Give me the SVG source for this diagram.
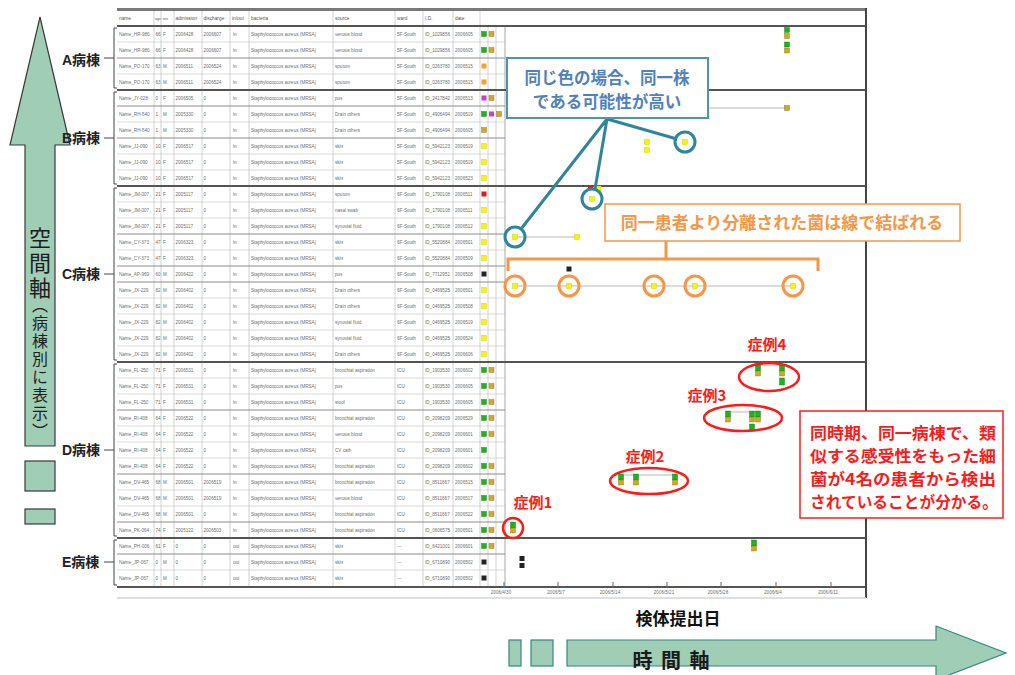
<svg xmlns="http://www.w3.org/2000/svg" width="1015" height="675" viewBox="0 0 1015 675">
<style>
.t{font-family:"Liberation Sans",Arial,sans-serif;font-size:4.6px;fill:#6e6e6e}
.h{font-family:"Liberation Sans",Arial,sans-serif;font-size:4.8px;fill:#555}
.rl{stroke:#d0d0d0;stroke-width:.8;fill:none}
.ps{stroke:#8c8c8c;stroke-width:1;fill:none}
.gs{stroke:#555;stroke-width:2;fill:none}
.vl{stroke:#c6c6c6;stroke-width:.8;fill:none}
.g{fill:#1db31d;stroke:#0c7a0c;stroke-width:.4}
.o{fill:#cfa92c;stroke:#8a7010;stroke-width:.4}
.y{fill:#f6f600;stroke:#c8c800;stroke-width:.4}
.m{fill:#d23bd2}
.r{fill:#e31a1a}
.k{fill:#222}
.n{fill:#f3a329}
.conn{stroke:#cfcfcf;stroke-width:1.5;fill:none}
.lbl{font-family:"Liberation Sans","Noto Sans CJK JP",sans-serif;font-weight:bold;font-size:14px;fill:#222}
.brk{stroke:#444;stroke-width:1;fill:none}
.jp{font-family:"Noto Sans CJK JP","Liberation Sans",sans-serif;font-weight:bold}
.tealc{fill:none;stroke:#31859b;stroke-width:3}
.orc{fill:none;stroke:#f79646;stroke-width:3}
.redc{fill:none;stroke:#ff1a1a;stroke-width:2.5}
.case{font-family:"Noto Sans CJK JP","Liberation Sans",sans-serif;font-weight:bold;font-size:15px;fill:#ff1a1a;text-anchor:middle}
.arw{fill:#9fcdb5}
</style>

<!-- left space axis arrow -->
<g id="space-axis">
<polygon class="arw" points="40,17 70,145 55,145 55,446 25,446 25,145 10,145" stroke="#3a3a3a" stroke-width="1.2"/>
<rect class="arw" x="25" y="461" width="30" height="30" stroke="#3a3a3a" stroke-width="1.2"/>
<rect class="arw" x="25" y="509" width="30" height="15" stroke="#3a3a3a" stroke-width="1.2"/>
<text x="40" y="227" class="jp" style="writing-mode:vertical-rl;font-weight:normal" font-size="22" letter-spacing="3" fill="#1e1e1e">空間軸</text>
<text x="40" y="297" class="jp" style="writing-mode:vertical-rl;font-weight:normal" font-size="16" letter-spacing="2" fill="#1e1e1e">（病棟別に表示）</text>
</g>

<!-- ward labels -->
<g id="ward-labels">
<text class="lbl" x="62" y="65">A病棟</text>
<text class="lbl" x="62" y="143">B病棟</text>
<text class="lbl" x="62" y="279">C病棟</text>
<text class="lbl" x="62" y="455">D病棟</text>
<text class="lbl" x="62" y="567">E病棟</text>
<path class="brk" d="M117,28h-3v60h3 M114,58h-10 M117,92h-3v92h3 M114,138h-10 M117,188h-3v172h3 M114,274h-10 M117,364h-3v172h3 M114,450h-10 M117,540h-3v45h3 M114,562h-10"/>
</g>

<!-- table grid -->
<g id="table">
<rect x="117" y="8" width="749" height="579" fill="#fff"/>
<path class="rl" d="M117 42H505 M117 74H505 M117 122H505 M117 154H505 M117 170H505 M117 202H505 M117 218H505 M117 250H505 M117 298H505 M117 314H505 M117 330H505 M117 346H505 M117 378H505 M117 394H505 M117 426H505 M117 442H505 M117 458H505 M117 490H505 M117 506H505 M117 570H505"/>
<path class="vl" d="M154 9.5V586 M161 9.5V586 M174 9.5V586 M202 9.5V586 M230 9.5V586 M249 9.5V586 M333 9.5V586 M395 9.5V586 M423 9.5V586 M453 9.5V586 M480 9.5V586 M488 26V586 M496 26V586"/>
<path d="M505 26V586" stroke="#a8a8a8" stroke-width="1"/>
<path class="ps" d="M117 58H505 M117 106H505 M117 138H505 M117 234H505 M117 266H505 M117 282H505 M117 410H505 M117 474H505 M117 522H505 M117 554H505"/>
<path d="M117 9.5H866" stroke="#7a7a7a" stroke-width="3"/>
<path class="gs" d="M117 26H866 M117 90H866 M117 186H866 M117 362H866 M117 538H866 M117 587H866"/>
<path d="M866 8V598" stroke="#444" stroke-width="2"/>
<path d="M117 598H866" stroke="#d4d4d4" stroke-width="1.5"/>
<path d="M504 582V588 M558 582V588 M613 582V588 M667 582V588 M721 582V588 M776 582V588 M831 582V588" stroke="#666" stroke-width="1"/>
<g class="t" font-size="4" text-anchor="middle">
<text x="501" y="594">2006/4/30</text><text x="556" y="594">2006/5/7</text><text x="610" y="594">2006/5/14</text><text x="664" y="594">2006/5/21</text><text x="718" y="594">2006/5/28</text><text x="773" y="594">2006/6/4</text><text x="828" y="594">2006/6/11</text>
</g>
<text class="h" y="19.5"><tspan x="119">name</tspan><tspan x="155" font-size="3.6">age</tspan><tspan x="162.5" font-size="3.6">sex</tspan><tspan x="175.5">admission</tspan><tspan x="203.5">discharge</tspan><tspan x="232">in/out</tspan><tspan x="251">bacteria</tspan><tspan x="335">source</tspan><tspan x="397">ward</tspan><tspan x="425">I.D.</tspan><tspan x="455">date</tspan></text>
</g>

<g id="rows" class="t">
<text y="35.6"><tspan x="119">Name_HR-986</tspan><tspan x="155.5">66</tspan><tspan x="163">F</tspan><tspan x="175.5">2006428</tspan><tspan x="203.5">2006607</tspan><tspan x="233">in</tspan><tspan x="251">Staphylococcus aureus (MRSA)</tspan><tspan x="335">venous blood</tspan><tspan x="397">5F-South</tspan><tspan x="425">ID_1029856</tspan><tspan x="455">2006605</tspan></text>
<text y="51.6"><tspan x="119">Name_HR-986</tspan><tspan x="155.5">66</tspan><tspan x="163">F</tspan><tspan x="175.5">2006428</tspan><tspan x="203.5">2006607</tspan><tspan x="233">in</tspan><tspan x="251">Staphylococcus aureus (MRSA)</tspan><tspan x="335">venous blood</tspan><tspan x="397">5F-South</tspan><tspan x="425">ID_1029856</tspan><tspan x="455">2006605</tspan></text>
<text y="67.6"><tspan x="119">Name_PO-170</tspan><tspan x="155.5">63</tspan><tspan x="163">M</tspan><tspan x="175.5">2006511</tspan><tspan x="203.5">2006524</tspan><tspan x="233">in</tspan><tspan x="251">Staphylococcus aureus (MRSA)</tspan><tspan x="335">sputum</tspan><tspan x="397">5F-South</tspan><tspan x="425">ID_0263780</tspan><tspan x="455">2006515</tspan></text>
<text y="83.6"><tspan x="119">Name_PO-170</tspan><tspan x="155.5">63</tspan><tspan x="163">M</tspan><tspan x="175.5">2006511</tspan><tspan x="203.5">2006524</tspan><tspan x="233">in</tspan><tspan x="251">Staphylococcus aureus (MRSA)</tspan><tspan x="335">sputum</tspan><tspan x="397">5F-South</tspan><tspan x="425">ID_0263780</tspan><tspan x="455">2006515</tspan></text>
<text y="99.6"><tspan x="119">Name_JY-028</tspan><tspan x="155.5">0</tspan><tspan x="163">F</tspan><tspan x="175.5">2006505</tspan><tspan x="203.5">0</tspan><tspan x="233">in</tspan><tspan x="251">Staphylococcus aureus (MRSA)</tspan><tspan x="335">pus</tspan><tspan x="397">5F-South</tspan><tspan x="425">ID_2417842</tspan><tspan x="455">2006513</tspan></text>
<text y="115.6"><tspan x="119">Name_RH-540</tspan><tspan x="155.5">1</tspan><tspan x="163">M</tspan><tspan x="175.5">2005330</tspan><tspan x="203.5">0</tspan><tspan x="233">in</tspan><tspan x="251">Staphylococcus aureus (MRSA)</tspan><tspan x="335">Drain others</tspan><tspan x="397">5F-South</tspan><tspan x="425">ID_4906494</tspan><tspan x="455">2006519</tspan></text>
<text y="131.6"><tspan x="119">Name_RH-540</tspan><tspan x="155.5">1</tspan><tspan x="163">M</tspan><tspan x="175.5">2005330</tspan><tspan x="203.5">0</tspan><tspan x="233">in</tspan><tspan x="251">Staphylococcus aureus (MRSA)</tspan><tspan x="335">Drain others</tspan><tspan x="397">5F-South</tspan><tspan x="425">ID_4906494</tspan><tspan x="455">2006605</tspan></text>
<text y="147.6"><tspan x="119">Name_JJ-090</tspan><tspan x="155.5">10</tspan><tspan x="163">F</tspan><tspan x="175.5">2006517</tspan><tspan x="203.5">0</tspan><tspan x="233">in</tspan><tspan x="251">Staphylococcus aureus (MRSA)</tspan><tspan x="335">skin</tspan><tspan x="397">5F-South</tspan><tspan x="425">ID_5942123</tspan><tspan x="455">2006519</tspan></text>
<text y="163.6"><tspan x="119">Name_JJ-090</tspan><tspan x="155.5">10</tspan><tspan x="163">F</tspan><tspan x="175.5">2006517</tspan><tspan x="203.5">0</tspan><tspan x="233">in</tspan><tspan x="251">Staphylococcus aureus (MRSA)</tspan><tspan x="335">skin</tspan><tspan x="397">5F-South</tspan><tspan x="425">ID_5942123</tspan><tspan x="455">2006519</tspan></text>
<text y="179.6"><tspan x="119">Name_JJ-090</tspan><tspan x="155.5">10</tspan><tspan x="163">F</tspan><tspan x="175.5">2006517</tspan><tspan x="203.5">0</tspan><tspan x="233">in</tspan><tspan x="251">Staphylococcus aureus (MRSA)</tspan><tspan x="335">skin</tspan><tspan x="397">5F-South</tspan><tspan x="425">ID_5942123</tspan><tspan x="455">2006523</tspan></text>
<text y="195.6"><tspan x="119">Name_JM-007</tspan><tspan x="155.5">21</tspan><tspan x="163">F</tspan><tspan x="175.5">2005117</tspan><tspan x="203.5">0</tspan><tspan x="233">in</tspan><tspan x="251">Staphylococcus aureus (MRSA)</tspan><tspan x="335">sputum</tspan><tspan x="397">6F-South</tspan><tspan x="425">ID_1790108</tspan><tspan x="455">2006511</tspan></text>
<text y="211.6"><tspan x="119">Name_JM-007</tspan><tspan x="155.5">21</tspan><tspan x="163">F</tspan><tspan x="175.5">2005117</tspan><tspan x="203.5">0</tspan><tspan x="233">in</tspan><tspan x="251">Staphylococcus aureus (MRSA)</tspan><tspan x="335">nasal swab</tspan><tspan x="397">6F-South</tspan><tspan x="425">ID_1790108</tspan><tspan x="455">2006511</tspan></text>
<text y="227.6"><tspan x="119">Name_JM-007</tspan><tspan x="155.5">21</tspan><tspan x="163">F</tspan><tspan x="175.5">2005117</tspan><tspan x="203.5">0</tspan><tspan x="233">in</tspan><tspan x="251">Staphylococcus aureus (MRSA)</tspan><tspan x="335">synovial fluid</tspan><tspan x="397">6F-South</tspan><tspan x="425">ID_1790108</tspan><tspan x="455">2006512</tspan></text>
<text y="243.6"><tspan x="119">Name_CY-373</tspan><tspan x="155.5">47</tspan><tspan x="163">F</tspan><tspan x="175.5">2006323</tspan><tspan x="203.5">0</tspan><tspan x="233">in</tspan><tspan x="251">Staphylococcus aureus (MRSA)</tspan><tspan x="335">skin</tspan><tspan x="397">6F-South</tspan><tspan x="425">ID_5520884</tspan><tspan x="455">2006501</tspan></text>
<text y="259.6"><tspan x="119">Name_CY-373</tspan><tspan x="155.5">47</tspan><tspan x="163">F</tspan><tspan x="175.5">2006323</tspan><tspan x="203.5">0</tspan><tspan x="233">in</tspan><tspan x="251">Staphylococcus aureus (MRSA)</tspan><tspan x="335">skin</tspan><tspan x="397">6F-South</tspan><tspan x="425">ID_5520884</tspan><tspan x="455">2006509</tspan></text>
<text y="275.6"><tspan x="119">Name_AP-969</tspan><tspan x="155.5">60</tspan><tspan x="163">M</tspan><tspan x="175.5">2006422</tspan><tspan x="203.5">0</tspan><tspan x="233">in</tspan><tspan x="251">Staphylococcus aureus (MRSA)</tspan><tspan x="335">pus</tspan><tspan x="397">6F-South</tspan><tspan x="425">ID_7712951</tspan><tspan x="455">2006508</tspan></text>
<text y="291.6"><tspan x="119">Name_JX-229</tspan><tspan x="155.5">82</tspan><tspan x="163">M</tspan><tspan x="175.5">2006402</tspan><tspan x="203.5">0</tspan><tspan x="233">in</tspan><tspan x="251">Staphylococcus aureus (MRSA)</tspan><tspan x="335">Drain others</tspan><tspan x="397">6F-South</tspan><tspan x="425">ID_0469525</tspan><tspan x="455">2006501</tspan></text>
<text y="307.6"><tspan x="119">Name_JX-229</tspan><tspan x="155.5">82</tspan><tspan x="163">M</tspan><tspan x="175.5">2006402</tspan><tspan x="203.5">0</tspan><tspan x="233">in</tspan><tspan x="251">Staphylococcus aureus (MRSA)</tspan><tspan x="335">Drain others</tspan><tspan x="397">6F-South</tspan><tspan x="425">ID_0469525</tspan><tspan x="455">2006508</tspan></text>
<text y="323.6"><tspan x="119">Name_JX-229</tspan><tspan x="155.5">82</tspan><tspan x="163">M</tspan><tspan x="175.5">2006402</tspan><tspan x="203.5">0</tspan><tspan x="233">in</tspan><tspan x="251">Staphylococcus aureus (MRSA)</tspan><tspan x="335">synovial fluid</tspan><tspan x="397">6F-South</tspan><tspan x="425">ID_0469525</tspan><tspan x="455">2006519</tspan></text>
<text y="339.6"><tspan x="119">Name_JX-229</tspan><tspan x="155.5">82</tspan><tspan x="163">M</tspan><tspan x="175.5">2006402</tspan><tspan x="203.5">0</tspan><tspan x="233">in</tspan><tspan x="251">Staphylococcus aureus (MRSA)</tspan><tspan x="335">synovial fluid</tspan><tspan x="397">6F-South</tspan><tspan x="425">ID_0469525</tspan><tspan x="455">2006524</tspan></text>
<text y="355.6"><tspan x="119">Name_JX-229</tspan><tspan x="155.5">82</tspan><tspan x="163">M</tspan><tspan x="175.5">2006402</tspan><tspan x="203.5">0</tspan><tspan x="233">in</tspan><tspan x="251">Staphylococcus aureus (MRSA)</tspan><tspan x="335">Drain others</tspan><tspan x="397">6F-South</tspan><tspan x="425">ID_0469525</tspan><tspan x="455">2006606</tspan></text>
<text y="371.6"><tspan x="119">Name_FL-250</tspan><tspan x="155.5">71</tspan><tspan x="163">F</tspan><tspan x="175.5">2006531</tspan><tspan x="203.5">0</tspan><tspan x="233">in</tspan><tspan x="251">Staphylococcus aureus (MRSA)</tspan><tspan x="335">bronchial aspiration</tspan><tspan x="397">ICU</tspan><tspan x="425">ID_1903530</tspan><tspan x="455">2006602</tspan></text>
<text y="387.6"><tspan x="119">Name_FL-250</tspan><tspan x="155.5">71</tspan><tspan x="163">F</tspan><tspan x="175.5">2006531</tspan><tspan x="203.5">0</tspan><tspan x="233">in</tspan><tspan x="251">Staphylococcus aureus (MRSA)</tspan><tspan x="335">pus</tspan><tspan x="397">ICU</tspan><tspan x="425">ID_1903530</tspan><tspan x="455">2006605</tspan></text>
<text y="403.6"><tspan x="119">Name_FL-250</tspan><tspan x="155.5">71</tspan><tspan x="163">F</tspan><tspan x="175.5">2006531</tspan><tspan x="203.5">0</tspan><tspan x="233">in</tspan><tspan x="251">Staphylococcus aureus (MRSA)</tspan><tspan x="335">stool</tspan><tspan x="397">ICU</tspan><tspan x="425">ID_1903530</tspan><tspan x="455">2006605</tspan></text>
<text y="419.6"><tspan x="119">Name_RI-408</tspan><tspan x="155.5">64</tspan><tspan x="163">F</tspan><tspan x="175.5">2006522</tspan><tspan x="203.5">0</tspan><tspan x="233">in</tspan><tspan x="251">Staphylococcus aureus (MRSA)</tspan><tspan x="335">bronchial aspiration</tspan><tspan x="397">ICU</tspan><tspan x="425">ID_2098209</tspan><tspan x="455">2006529</tspan></text>
<text y="435.6"><tspan x="119">Name_RI-408</tspan><tspan x="155.5">64</tspan><tspan x="163">F</tspan><tspan x="175.5">2006522</tspan><tspan x="203.5">0</tspan><tspan x="233">in</tspan><tspan x="251">Staphylococcus aureus (MRSA)</tspan><tspan x="335">venous blood</tspan><tspan x="397">ICU</tspan><tspan x="425">ID_2098209</tspan><tspan x="455">2006601</tspan></text>
<text y="451.6"><tspan x="119">Name_RI-408</tspan><tspan x="155.5">64</tspan><tspan x="163">F</tspan><tspan x="175.5">2006522</tspan><tspan x="203.5">0</tspan><tspan x="233">in</tspan><tspan x="251">Staphylococcus aureus (MRSA)</tspan><tspan x="335">CV cath</tspan><tspan x="397">ICU</tspan><tspan x="425">ID_2098209</tspan><tspan x="455">2006601</tspan></text>
<text y="467.6"><tspan x="119">Name_RI-408</tspan><tspan x="155.5">64</tspan><tspan x="163">F</tspan><tspan x="175.5">2006522</tspan><tspan x="203.5">0</tspan><tspan x="233">in</tspan><tspan x="251">Staphylococcus aureus (MRSA)</tspan><tspan x="335">bronchial aspiration</tspan><tspan x="397">ICU</tspan><tspan x="425">ID_2098209</tspan><tspan x="455">2006602</tspan></text>
<text y="483.6"><tspan x="119">Name_DV-465</tspan><tspan x="155.5">68</tspan><tspan x="163">M</tspan><tspan x="175.5">2006501</tspan><tspan x="203.5">2006519</tspan><tspan x="233">in</tspan><tspan x="251">Staphylococcus aureus (MRSA)</tspan><tspan x="335">bronchial aspiration</tspan><tspan x="397">ICU</tspan><tspan x="425">ID_8511667</tspan><tspan x="455">2006515</tspan></text>
<text y="499.6"><tspan x="119">Name_DV-465</tspan><tspan x="155.5">68</tspan><tspan x="163">M</tspan><tspan x="175.5">2006501</tspan><tspan x="203.5">2006519</tspan><tspan x="233">in</tspan><tspan x="251">Staphylococcus aureus (MRSA)</tspan><tspan x="335">venous blood</tspan><tspan x="397">ICU</tspan><tspan x="425">ID_8511667</tspan><tspan x="455">2006517</tspan></text>
<text y="515.6"><tspan x="119">Name_DV-465</tspan><tspan x="155.5">68</tspan><tspan x="163">M</tspan><tspan x="175.5">2006501</tspan><tspan x="203.5">0</tspan><tspan x="233">in</tspan><tspan x="251">Staphylococcus aureus (MRSA)</tspan><tspan x="335">bronchial aspiration</tspan><tspan x="397">ICU</tspan><tspan x="425">ID_8511667</tspan><tspan x="455">2006522</tspan></text>
<text y="531.6"><tspan x="119">Name_PK-064</tspan><tspan x="155.5">74</tspan><tspan x="163">F</tspan><tspan x="175.5">2005122</tspan><tspan x="203.5">2006503</tspan><tspan x="233">in</tspan><tspan x="251">Staphylococcus aureus (MRSA)</tspan><tspan x="335">bronchial aspiration</tspan><tspan x="397">ICU</tspan><tspan x="425">ID_0606575</tspan><tspan x="455">2006501</tspan></text>
<text y="547.6"><tspan x="119">Name_PH-006</tspan><tspan x="155.5">61</tspan><tspan x="163">F</tspan><tspan x="175.5">0</tspan><tspan x="203.5">0</tspan><tspan x="233">out</tspan><tspan x="251">Staphylococcus aureus (MRSA)</tspan><tspan x="335">skin</tspan><tspan x="397">---</tspan><tspan x="425">ID_6421001</tspan><tspan x="455">2006601</tspan></text>
<text y="563.6"><tspan x="119">Name_JP-067</tspan><tspan x="155.5">0</tspan><tspan x="163">M</tspan><tspan x="175.5">0</tspan><tspan x="203.5">0</tspan><tspan x="233">out</tspan><tspan x="251">Staphylococcus aureus (MRSA)</tspan><tspan x="335">skin</tspan><tspan x="397">---</tspan><tspan x="425">ID_6710890</tspan><tspan x="455">2006502</tspan></text>
<text y="579.6"><tspan x="119">Name_JP-067</tspan><tspan x="155.5">0</tspan><tspan x="163">M</tspan><tspan x="175.5">0</tspan><tspan x="203.5">0</tspan><tspan x="233">out</tspan><tspan x="251">Staphylococcus aureus (MRSA)</tspan><tspan x="335">skin</tspan><tspan x="397">---</tspan><tspan x="425">ID_6710890</tspan><tspan x="455">2006502</tspan></text>
</g>

<!-- legend squares per row -->
<g id="row-swatches">
<rect class="g" x="481.5" y="31.5" width="5" height="5"/><rect class="o" x="489" y="31.5" width="5" height="5"/>
<rect class="g" x="481.5" y="47.5" width="5" height="5"/><rect class="o" x="489" y="47.5" width="5" height="5"/>
<rect class="n" x="481.5" y="63.5" width="5" height="5"/>
<rect class="n" x="481.5" y="79.5" width="5" height="5"/>
<rect class="m" x="481.5" y="95.5" width="5" height="5"/><rect class="o" x="489" y="95.5" width="5" height="5"/>
<rect class="g" x="481.5" y="111.5" width="5" height="5"/><rect class="m" x="489" y="111.5" width="5" height="5"/><rect class="o" x="496.5" y="111.5" width="5" height="5"/>
<rect class="o" x="481.5" y="127.5" width="5" height="5"/>
<rect class="y" x="481.5" y="143.5" width="5" height="5"/>
<rect class="y" x="481.5" y="159.5" width="5" height="5"/>
<rect class="y" x="481.5" y="175.5" width="5" height="5"/>
<rect class="r" x="481.5" y="191.5" width="5" height="5"/>
<rect class="y" x="481.5" y="207.5" width="5" height="5"/>
<rect class="y" x="481.5" y="223.5" width="5" height="5"/>
<rect class="y" x="481.5" y="239.5" width="5" height="5"/>
<rect class="y" x="481.5" y="255.5" width="5" height="5"/>
<rect class="k" x="481.5" y="271.5" width="5" height="5"/>
<rect class="y" x="481.5" y="287.5" width="5" height="5"/>
<rect class="y" x="481.5" y="303.5" width="5" height="5"/>
<rect class="y" x="481.5" y="319.5" width="5" height="5"/>
<rect class="y" x="481.5" y="335.5" width="5" height="5"/>
<rect class="y" x="481.5" y="351.5" width="5" height="5"/>
<rect class="g" x="481.5" y="367.5" width="5" height="5"/><rect class="o" x="489" y="367.5" width="5" height="5"/>
<rect class="g" x="481.5" y="383.5" width="5" height="5"/><rect class="o" x="489" y="383.5" width="5" height="5"/>
<rect class="g" x="481.5" y="399.5" width="5" height="5"/><rect class="o" x="489" y="399.5" width="5" height="5"/>
<rect class="g" x="481.5" y="415.5" width="5" height="5"/><rect class="o" x="489" y="415.5" width="5" height="5"/>
<rect class="g" x="481.5" y="431.5" width="5" height="5"/><rect class="o" x="489" y="431.5" width="5" height="5"/>
<rect class="g" x="481.5" y="447.5" width="5" height="5"/>
<rect class="g" x="481.5" y="463.5" width="5" height="5"/><rect class="o" x="489" y="463.5" width="5" height="5"/>
<rect class="g" x="481.5" y="479.5" width="5" height="5"/><rect class="o" x="489" y="479.5" width="5" height="5"/>
<rect class="g" x="481.5" y="495.5" width="5" height="5"/><rect class="o" x="489" y="495.5" width="5" height="5"/>
<rect class="g" x="481.5" y="511.5" width="5" height="5"/><rect class="o" x="489" y="511.5" width="5" height="5"/>
<rect class="g" x="481.5" y="527.5" width="5" height="5"/><rect class="o" x="489" y="527.5" width="5" height="5"/>
<rect class="g" x="481.5" y="543.5" width="5" height="5"/><rect class="o" x="489" y="543.5" width="5" height="5"/>
<rect class="k" x="481.5" y="559.5" width="5" height="5"/>
<rect class="k" x="481.5" y="575.5" width="5" height="5"/>
</g>

<!-- timeline connectors between isolates of same patient -->
<g id="connectors">
<path class="conn" d="M650 108H787 M515 237H577 M515 286H793 M758 365H782 M728 412H758 M621 475H675"/>
</g>

<!-- timeline markers -->
<g id="markers">
<rect class="g" x="784.5" y="27.5" width="5" height="5"/><rect class="o" x="784.5" y="33.5" width="5" height="5"/>
<rect class="g" x="784.5" y="42" width="5" height="5"/><rect class="o" x="784.5" y="48" width="5" height="5"/>
<rect class="m" x="649" y="105" width="5" height="4" opacity=".35"/>
<rect class="o" x="784.5" y="105.5" width="5" height="5"/>
<rect class="y" x="644.5" y="139.5" width="5" height="5"/><rect class="y" x="644.5" y="147.5" width="5" height="5"/>
<rect class="y" x="682.5" y="139.5" width="5" height="5"/>
<rect class="r" x="588" y="186" width="5" height="4"/><rect class="y" x="596" y="186" width="5" height="5"/>
<rect class="y" x="589.5" y="196.5" width="5" height="5"/>
<rect class="y" x="512.5" y="234.5" width="5" height="5"/><rect class="y" x="574.5" y="234.5" width="5" height="5"/>
<rect class="k" x="566.5" y="266.5" width="5" height="5"/>
<rect class="y" x="512.5" y="283.5" width="5" height="5"/><rect class="y" x="566.5" y="283.5" width="5" height="5"/><rect class="y" x="651.5" y="283.5" width="5" height="5"/><rect class="y" x="692.5" y="283.5" width="5" height="5"/><rect class="y" x="790.5" y="283.5" width="5" height="5"/>
<rect class="g" x="755.5" y="365" width="5" height="6"/><rect class="o" x="755.5" y="371" width="5" height="5"/>
<rect class="g" x="779.5" y="365" width="5" height="6"/><rect class="o" x="779.5" y="371" width="5" height="5"/><rect class="g" x="779.5" y="378" width="5" height="7"/>
<rect class="g" x="725.5" y="411" width="5" height="6"/><rect class="o" x="725.5" y="417" width="5" height="5"/>
<rect class="g" x="749.5" y="411" width="5" height="6"/><rect class="o" x="749.5" y="417" width="5" height="5"/><rect class="g" x="749.5" y="424" width="5" height="6"/>
<rect class="g" x="755.5" y="411" width="5" height="6"/><rect class="o" x="755.5" y="417" width="5" height="5"/>
<rect class="g" x="618.5" y="474" width="5" height="6"/><rect class="o" x="618.5" y="480" width="5" height="5"/>
<rect class="g" x="633.5" y="474" width="5" height="6"/><rect class="o" x="633.5" y="480" width="5" height="5"/>
<rect class="g" x="672.5" y="474" width="5" height="6"/><rect class="o" x="672.5" y="480" width="5" height="5"/>
<rect class="g" x="510.5" y="522" width="5" height="6"/><rect class="o" x="510.5" y="528" width="5" height="5"/>
<rect class="g" x="751.5" y="540" width="5" height="6"/><rect class="o" x="751.5" y="546" width="5" height="5"/>
<rect class="k" x="519.5" y="556" width="5" height="5"/><rect class="k" x="519.5" y="563" width="5" height="5"/>
</g>

<!-- blue callout -->
<g id="callout-same-color">
<path d="M607 119L677 139 M607 119L595 189 M607 119L521 229" stroke="#31859b" stroke-width="3" fill="none"/>
<rect x="507" y="58" width="201" height="60" fill="#fff" stroke="#4b96ad" stroke-width="2"/>
<text class="jp" x="607" y="83.5" font-size="16.5" fill="#4f81bd" text-anchor="middle">同じ色の場合、同一株</text>
<text class="jp" x="607" y="107.5" font-size="16.5" fill="#4f81bd" text-anchor="middle">である可能性が高い</text>
<circle class="tealc" cx="685" cy="142" r="10"/>
<circle class="tealc" cx="592" cy="199" r="10"/>
<circle class="tealc" cx="515" cy="237" r="10"/>
</g>

<!-- orange callout -->
<g id="callout-same-patient">
<rect x="605" y="204" width="355" height="37" fill="#fff" stroke="#f79646" stroke-width="1.5"/>
<text class="jp" x="782" y="229" font-size="17" fill="#f79646" text-anchor="middle">同一患者より分離された菌は線で結ばれる</text>
<path d="M508 271V259H818V271 M666 259V241" stroke="#f79646" stroke-width="3" fill="none"/>
<circle class="orc" cx="515" cy="286" r="10"/>
<circle class="orc" cx="569" cy="286" r="10"/>
<circle class="orc" cx="654" cy="286" r="10"/>
<circle class="orc" cx="695" cy="286" r="10"/>
<circle class="orc" cx="793" cy="286" r="10"/>
</g>

<!-- red case highlights -->
<g id="cases">
<text class="case" x="767" y="350">症例4</text>
<ellipse class="redc" cx="769" cy="377" rx="30" ry="14"/>
<text class="case" x="707" y="401">症例3</text>
<ellipse class="redc" cx="743" cy="418" rx="39" ry="13"/>
<text class="case" x="645" y="462">症例2</text>
<ellipse class="redc" cx="649" cy="481" rx="39" ry="13"/>
<text class="case" x="533" y="508">症例1</text>
<circle class="redc" cx="513" cy="528" r="10"/>
</g>

<g id="note-box">
<rect x="800" y="411" width="203" height="107" fill="#fff" stroke="#ff1a1a" stroke-width="1.5"/>
<g class="jp" font-size="16" fill="#ff1a1a">
<text x="810" y="439" textLength="186" lengthAdjust="spacingAndGlyphs">同時期、同一病棟で、類</text>
<text x="810" y="462" textLength="186" lengthAdjust="spacingAndGlyphs">似する感受性をもった細</text>
<text x="810" y="485" textLength="186" lengthAdjust="spacingAndGlyphs">菌が4名の患者から検出</text>
<text x="810" y="508" textLength="188" lengthAdjust="spacingAndGlyphs">されていることが分かる。</text>
</g>
</g>

<!-- time axis -->
<g id="time-axis">
<text class="jp" x="678" y="625" font-size="17" fill="#111" text-anchor="middle">検体提出日</text>
<rect class="arw" x="509" y="640" width="12" height="26" stroke="#2f8a7d" stroke-width="1.2"/>
<rect class="arw" x="531" y="640" width="22" height="26" stroke="#2f8a7d" stroke-width="1.2"/>
<polygon class="arw" points="567,640 936,640 936,626 1006,653 936,680 936,666 567,666" stroke="#2f8a7d" stroke-width="1.2"/>
<text class="jp" x="672" y="668" font-size="20" fill="#1a1a1a" text-anchor="middle" letter-spacing="2">時 間 軸</text>
</g>
</svg>
